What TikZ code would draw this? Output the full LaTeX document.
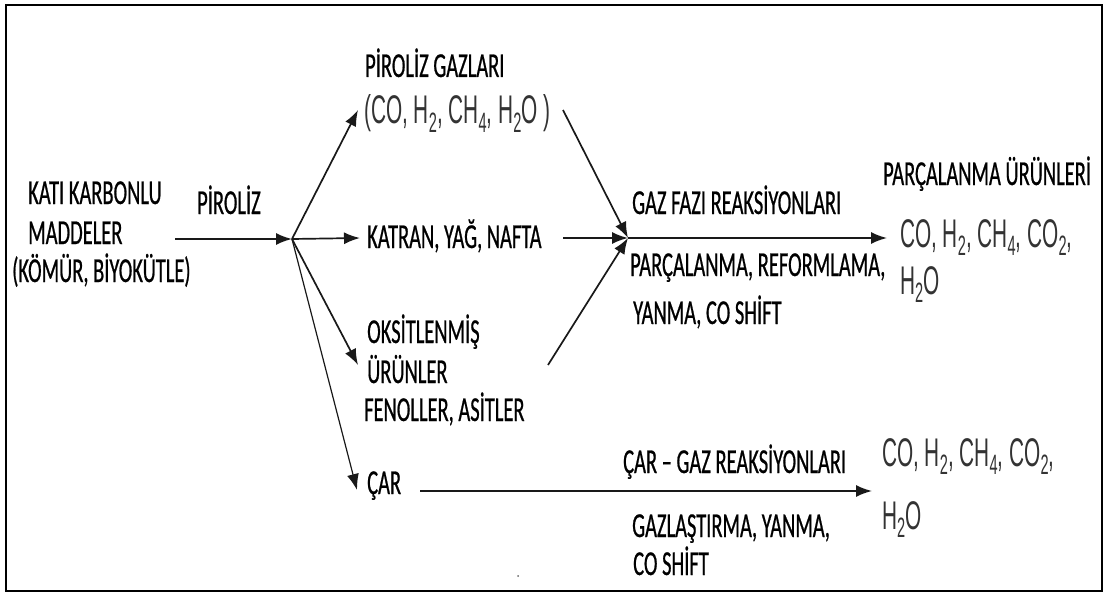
\documentclass[tikz,border=0pt]{standalone}
\usepackage{fontspec}
\setmainfont{Carlito}
\newfontfamily\lab[FakeStretch=0.585,FakeBold=0.6]{Carlito}
\newfontfamily\chem[FakeStretch=0.52]{Liberation Sans}
\usetikzlibrary{arrows.meta}
\newcommand{\sbs}[1]{\raisebox{-0.22em}{\fontsize{28}{28}\selectfont #1}}
\tikzset{
  lbl/.style={anchor=base west, inner sep=0pt, font=\lab\fontsize{35}{40}\selectfont, text=black},
  chm/.style={anchor=base west, inner sep=0pt, font=\chem\fontsize{40}{44}\selectfont, text=black!80},
  conn/.style={line width=1.7pt, draw=black!90},
  arr/.style={conn, -{Latex[length=16pt,width=12pt]}},
  frame/.style={line width=2.5pt, draw=black}
}
\begin{document}
\begin{tikzpicture}[x=1pt,y=-1pt]
\useasboundingbox (0,0) rectangle (1104,594);
\draw[frame] (6,5) rectangle (1102,591);

% left source text
\node[lbl] (k1) at (28,204) {KATI KARBONLU};
\node[lbl] (k2) at (28,244) {MADDELER};
\node[lbl] (k3) at (12,282) {(KÖMÜR, BİYOKÜTLE)};
\node[lbl] (pir) at (197,214) {PİROLİZ};

% products of pyrolysis
\node[lbl] (pg) at (365,77) {PİROLİZ GAZLARI};
\node[chm] (pgf) at (364,124) {(CO, H\sbs{2}, CH\sbs{4}, H\sbs{2}O )};
\node[lbl] (kat) at (367,248) {KATRAN, YAĞ, NAFTA};
\node[lbl] (ok1) at (367,343) {OKSİTLENMİŞ};
\node[lbl] (ok2) at (367,383) {ÜRÜNLER};
\node[lbl] (ok3) at (364,421) {FENOLLER, ASİTLER};
\node[lbl] (car) at (367,494) {ÇAR};

% gas phase
\node[lbl] (gf) at (632,214) {GAZ FAZI REAKSİYONLARI};
\node[lbl] (gf2) at (630,276) {PARÇALANMA, REFORMLAMA,};
\node[lbl] (gf3) at (633,324) {YANMA, CO SHİFT};
\node[lbl] (pu) at (883,185) {PARÇALANMA ÜRÜNLERİ};
\node[chm] (pu1) at (900,247) {CO, H\sbs{2}, CH\sbs{4}, CO\sbs{2},};
\node[chm] (pu2) at (900,294) {H\sbs{2}O};

% char-gas
\node[lbl] (cg) at (623,473) {ÇAR – GAZ REAKSİYONLARI};
\node[lbl] (cg2) at (632,537) {GAZLAŞTIRMA, YANMA,};
\node[lbl] (cg3) at (633,575) {CO SHİFT};
\node[chm] (cp1) at (882,466) {CO, H\sbs{2}, CH\sbs{4}, CO\sbs{2},};
\node[chm] (cp2) at (882,529) {H\sbs{2}O};

% coordinates
\coordinate (s0) at (175,239);
\coordinate (hub) at (292,239);
\coordinate (tg) at (358,110);
\coordinate (tk) at (360,238);
\coordinate (to) at (358,365);
\coordinate (tc) at (357,490);
\coordinate (g) at (628,238);
\coordinate (sg) at (563,110);
\coordinate (sk) at (563,238);
\coordinate (so) at (548,365);
\coordinate (te) at (887,238);
\coordinate (sc) at (420,491);
\coordinate (tc2) at (872,491);

\draw[arr] (s0) -- (hub);
\draw[arr] (hub) -- (tg);
\draw[arr] (hub) -- (tk);
\draw[arr] (hub) -- (to);
\draw[arr, line width=1.2pt] (hub) -- (tc);
\draw[arr] (sg) -- (g);
\draw[arr] (sk) -- (g);
\draw[arr] (so) -- (g);
\draw[arr] (g) -- (te);
\draw[arr] (sc) -- (tc2);

\fill[black!60] (518,576) circle (1pt);
\end{tikzpicture}
\end{document}
